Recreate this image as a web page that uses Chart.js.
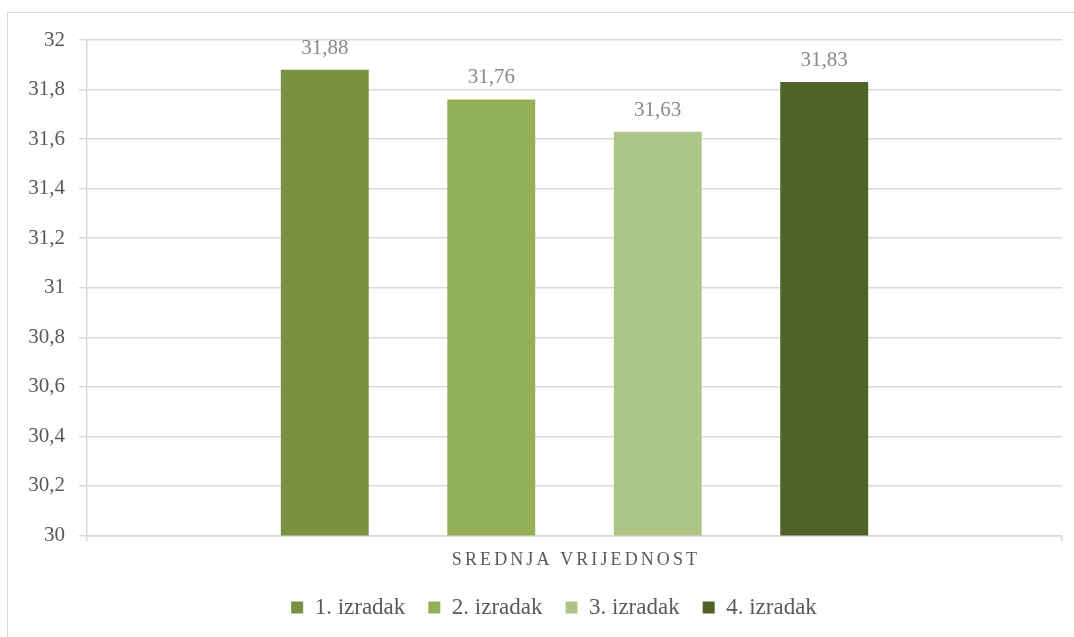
<!DOCTYPE html>
<html>
<head>
<meta charset="utf-8">
<script src="https://cdn.jsdelivr.net/npm/chart.js@4"></script>
<style>
  html, body { margin: 0; padding: 0; background: #fff; overflow: hidden; }
  #frame { position: absolute; left: 7px; top: 12px; width: 1200px; height: 700px; border: 1.5px solid #d9d9d9; }
  #wrap { position: absolute; left: 0; top: 0; width: 1074px; height: 637px; }
</style>
</head>
<body>
<div id="frame"></div>
<div id="wrap"><canvas id="chart" width="1074" height="637"></canvas></div>
<script>
const categories = ['SREDNJA VRIJEDNOST'];
const seriesNames = ['1. izradak', '2. izradak', '3. izradak', '4. izradak'];
const seriesValues = [[31.88], [31.76], [31.63], [31.83]];
const seriesColors = ['#7a9142', '#93b056', '#adc688', '#4f6228'];

const fontFam = '"Liberation Serif", "DejaVu Serif", serif';
const fmt = v => v.toString().replace('.', ',');

// value labels above bars + spaced-out category label
const labelPlugin = {
  id: 'labels',
  afterLayout(chart) {
    // legend sits centred under the plot area, not the canvas
    chart.legend.left += 23;
    chart.legend.right += 23;
  },
  afterDatasetsDraw(chart) {
    const ctx = chart.ctx;
    ctx.save();
    ctx.font = '21px ' + fontFam;
    ctx.fillStyle = '#898989';
    ctx.textAlign = 'center';
    ctx.textBaseline = 'alphabetic';
    chart.data.datasets.forEach((ds, i) => {
      chart.getDatasetMeta(i).data.forEach((bar, j) => {
        ctx.fillText(fmt(ds.data[j]), bar.x, bar.y - 16);
      });
    });
    ctx.restore();
  },
  afterDraw(chart) {
    const ctx = chart.ctx;
    const x = chart.scales.x;
    ctx.save();
    ctx.font = '18px ' + fontFam;
    ctx.fillStyle = '#595959';
    ctx.letterSpacing = '3.1px';
    ctx.textAlign = 'center';
    ctx.textBaseline = 'middle';
    categories.forEach((c, i) => {
      ctx.fillText(c, x.getPixelForValue(i) + 1.5, chart.chartArea.bottom + 25);
    });
    ctx.restore();
  }
};

new Chart(document.getElementById('chart'), {
  type: 'bar',
  data: {
    labels: categories,
    datasets: seriesNames.map((n, i) => ({
      label: n,
      data: seriesValues[i],
      backgroundColor: seriesColors[i],
      categoryPercentage: 0.683,
      barPercentage: 0.528
    }))
  },
  options: {
    responsive: false,
    animation: false,
    layout: { padding: { left: 0, top: 40, right: 12, bottom: 8 } },
    scales: {
      y: {
        min: 30,
        max: 32,
        ticks: {
          stepSize: 0.2,
          color: '#595959',
          font: { family: fontFam, size: 21 },
          padding: 14,
          callback: v => fmt(Math.round(v * 10) / 10)
        },
        grid: { color: '#d9d9d9', lineWidth: 1.5, tickLength: 8 },
        border: { color: '#d9d9d9', width: 1.5 },
        afterFit(s) { s.width = 87; }
      },
      x: {
        ticks: { color: 'transparent', font: { family: fontFam, size: 18 } },
        grid: { color: '#d9d9d9', lineWidth: 1.5, tickLength: 6, drawOnChartArea: false },
        border: { color: '#d9d9d9', width: 1.5 },
        afterFit(s) { s.height = 37.5; }
      }
    },
    plugins: {
      legend: {
        position: 'bottom',
        labels: {
          color: '#595959',
          font: { family: fontFam, size: 23 },
          boxWidth: 12,
          boxHeight: 12,
          padding: 23
        }
      },
      tooltip: { enabled: false }
    }
  },
  plugins: [labelPlugin]
});
</script>
</body>
</html>
